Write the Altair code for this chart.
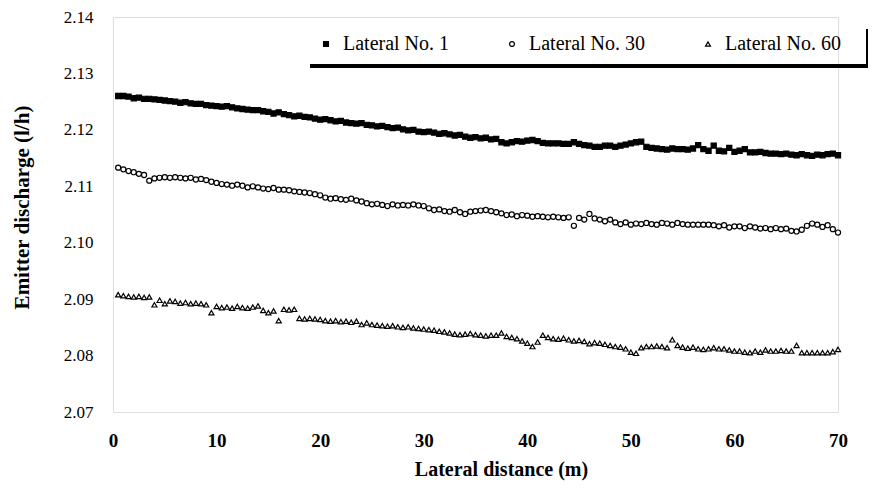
import altair as alt
import pandas as pd

distance = [round(0.5 * (i + 1), 1) for i in range(140)]

lateral_1 = [
    2.1260, 2.1260, 2.1259, 2.1256, 2.1257, 2.1255, 2.1255, 2.1254, 2.1253, 2.1252,
    2.1251, 2.1250, 2.1248, 2.1249, 2.1247, 2.1246, 2.1246, 2.1244, 2.1243, 2.1242,
    2.1241, 2.1242, 2.1240, 2.1238, 2.1237, 2.1236, 2.1235, 2.1235, 2.1233, 2.1232,
    2.1229, 2.1231, 2.1228, 2.1226, 2.1224, 2.1225, 2.1223, 2.1222, 2.1220, 2.1218,
    2.1219, 2.1217, 2.1215, 2.1216, 2.1213, 2.1212, 2.1211, 2.1212, 2.1209, 2.1208,
    2.1206, 2.1207, 2.1205, 2.1203, 2.1204, 2.1201, 2.1199, 2.1200, 2.1197, 2.1196,
    2.1197, 2.1195, 2.1193, 2.1194, 2.1192, 2.1190, 2.1191, 2.1188, 2.1186, 2.1187,
    2.1185, 2.1186, 2.1183, 2.1184, 2.1178, 2.1176, 2.1178, 2.1180, 2.1179, 2.1181,
    2.1182, 2.1180, 2.1177, 2.1176, 2.1176, 2.1176, 2.1175, 2.1175, 2.1178, 2.1175,
    2.1173, 2.1172, 2.1170, 2.1170, 2.1172, 2.1172, 2.1170, 2.1172, 2.1174, 2.1176,
    2.1178, 2.1179, 2.1170, 2.1168, 2.1167, 2.1166, 2.1165, 2.1167, 2.1166, 2.1166,
    2.1165, 2.1167, 2.1173, 2.1166, 2.1163, 2.1172, 2.1163, 2.1162, 2.1168, 2.1161,
    2.1163, 2.1166, 2.1160, 2.1160, 2.1161, 2.1159, 2.1158, 2.1158, 2.1157, 2.1158,
    2.1156, 2.1155, 2.1157, 2.1155, 2.1154, 2.1156, 2.1155, 2.1157, 2.1158, 2.1155,
]

lateral_30 = [
    2.1133, 2.1130, 2.1127, 2.1125, 2.1122, 2.1120, 2.1110, 2.1114, 2.1115, 2.1116,
    2.1115, 2.1116, 2.1115, 2.1114, 2.1115, 2.1112, 2.1113, 2.1111, 2.1108, 2.1106,
    2.1104, 2.1103, 2.1101, 2.1103, 2.1101, 2.1098, 2.1100, 2.1098, 2.1096, 2.1095,
    2.1097, 2.1094, 2.1094, 2.1093, 2.1091, 2.1090, 2.1089, 2.1088, 2.1086, 2.1084,
    2.1080, 2.1078, 2.1079, 2.1077, 2.1076, 2.1078, 2.1075, 2.1073, 2.1070, 2.1068,
    2.1069, 2.1067, 2.1065, 2.1068, 2.1066, 2.1067, 2.1066, 2.1068, 2.1066, 2.1065,
    2.1061, 2.1058, 2.1059, 2.1056, 2.1055, 2.1058, 2.1054, 2.1051, 2.1055, 2.1056,
    2.1057, 2.1058, 2.1056, 2.1054, 2.1052, 2.1049, 2.1050, 2.1047, 2.1049, 2.1048,
    2.1046, 2.1047, 2.1046, 2.1045, 2.1046, 2.1045, 2.1044, 2.1045, 2.1030, 2.1044,
    2.1041, 2.1051, 2.1043, 2.1041, 2.1038, 2.1041, 2.1036, 2.1033, 2.1036, 2.1032,
    2.1034, 2.1033, 2.1035, 2.1033, 2.1032, 2.1035, 2.1034, 2.1032, 2.1035, 2.1033,
    2.1032, 2.1032, 2.1032, 2.1032, 2.1032, 2.1031, 2.1029, 2.1031, 2.1027, 2.1029,
    2.1029, 2.1026, 2.1029, 2.1027, 2.1025, 2.1026, 2.1024, 2.1026, 2.1024, 2.1025,
    2.1021, 2.1020, 2.1023, 2.1030, 2.1034, 2.1032, 2.1028, 2.1031, 2.1024, 2.1018,
]

lateral_60 = [
    2.0908, 2.0906, 2.0905, 2.0904, 2.0905, 2.0903, 2.0904, 2.0890, 2.0898, 2.0892,
    2.0897, 2.0896, 2.0893, 2.0894, 2.0892, 2.0893, 2.0892, 2.0890, 2.0876, 2.0887,
    2.0885, 2.0886, 2.0884, 2.0887, 2.0885, 2.0884, 2.0886, 2.0888, 2.0880, 2.0876,
    2.0879, 2.0862, 2.0882, 2.0881, 2.0882, 2.0866, 2.0865, 2.0866, 2.0865, 2.0864,
    2.0862, 2.0861, 2.0862, 2.0860, 2.0861, 2.0859, 2.0861, 2.0855, 2.0858, 2.0855,
    2.0854, 2.0853, 2.0852, 2.0853, 2.0851, 2.0850, 2.0851, 2.0849, 2.0848, 2.0847,
    2.0846, 2.0845, 2.0843, 2.0842, 2.0840, 2.0838, 2.0837, 2.0838, 2.0839, 2.0837,
    2.0836, 2.0835, 2.0836, 2.0836, 2.0840, 2.0834, 2.0832, 2.0830, 2.0826, 2.0822,
    2.0816, 2.0824, 2.0836, 2.0832, 2.0830, 2.0829, 2.0831, 2.0828, 2.0826, 2.0827,
    2.0825, 2.0821, 2.0823, 2.0822, 2.0820, 2.0818, 2.0816, 2.0815, 2.0812, 2.0806,
    2.0804, 2.0814, 2.0816, 2.0816, 2.0817, 2.0816, 2.0814, 2.0828, 2.0818, 2.0815,
    2.0813, 2.0815, 2.0812, 2.0811, 2.0812, 2.0814, 2.0812, 2.0812, 2.0810, 2.0808,
    2.0808, 2.0806, 2.0805, 2.0808, 2.0806, 2.0810, 2.0808, 2.0808, 2.0809, 2.0808,
    2.0808, 2.0818, 2.0805, 2.0805, 2.0805, 2.0805, 2.0805, 2.0805, 2.0807, 2.0811,
]

series_names = ["Lateral No. 1", "Lateral No. 30", "Lateral No. 60"]
y_ticks = [2.07, 2.08, 2.09, 2.10, 2.11, 2.12, 2.13, 2.14]
x_ticks = [0, 10, 20, 30, 40, 50, 60, 70]

rows = []
for name, vals in zip(series_names, [lateral_1, lateral_30, lateral_60]):
    for d, v in zip(distance, vals):
        rows.append({"distance": d, "discharge": v, "series": name})
df = pd.DataFrame(rows)

FONT = "Liberation Serif"


def make_legend():
    return alt.Legend(title=None, orient="none", direction="horizontal",
                      legendX=199, legendY=13, columnPadding=52,
                      labelFont=FONT, labelFontSize=20, labelColor="black",
                      symbolSize=24, symbolStrokeWidth=1.2, labelOffset=7, padding=4)


points = alt.Chart(df).mark_point(size=26, strokeWidth=1.2, opacity=1).encode(
    x=alt.X("distance:Q",
            scale=alt.Scale(domain=[0, 70], nice=False, zero=False),
            axis=alt.Axis(values=x_ticks, title="Lateral distance (m)", grid=False,
                          domain=False, ticks=False, labelPadding=19, labelFlush=False,
                          labelFont=FONT, labelFontSize=19, labelFontWeight="bold",
                          labelColor="black", titleFont=FONT, titleFontSize=20,
                          titleFontWeight="bold", titleColor="black", titlePadding=9,
                          titleX=388)),
    y=alt.Y("discharge:Q",
            scale=alt.Scale(domain=[2.07, 2.14], nice=False, zero=False),
            axis=alt.Axis(values=y_ticks, format=".2f", title="Emitter discharge (l/h)",
                          grid=False, domain=False, ticks=False, labelPadding=20,
                          labelFlush=False,
                          labelFont=FONT, labelFontSize=17, labelColor="black",
                          titleFont=FONT, titleFontSize=21, titleFontWeight="bold",
                          titleColor="black", titlePadding=31, titleY=190)),
    shape=alt.Shape("series:N",
                    scale=alt.Scale(domain=series_names,
                                    range=["square", "circle", "triangle-up"]),
                    legend=make_legend()),
    fill=alt.Fill("series:N",
                  scale=alt.Scale(domain=series_names, range=["black", "white", "white"]),
                  legend=make_legend()),
    stroke=alt.Stroke("series:N",
                      scale=alt.Scale(domain=series_names, range=["black", "black", "black"]),
                      legend=make_legend()),
)

legend_bottom = alt.Chart(df).mark_rule(color="black", strokeWidth=3).encode(
    x=alt.value(197), x2=alt.value(756), y=alt.value(49)
)
legend_right = alt.Chart(df).mark_rule(color="black", strokeWidth=3).encode(
    x=alt.value(755), y=alt.value(12), y2=alt.value(50)
)

chart = alt.layer(points, legend_bottom, legend_right).properties(
    width=725, height=395,
    autosize=alt.AutoSizeParams(type="none"),
    padding={"left": 105, "top": 9, "right": 30, "bottom": 71},
).configure_view(stroke=None).configure(background="white")

chart.save("out.html", embed_options={"renderer": "svg", "actions": False})
